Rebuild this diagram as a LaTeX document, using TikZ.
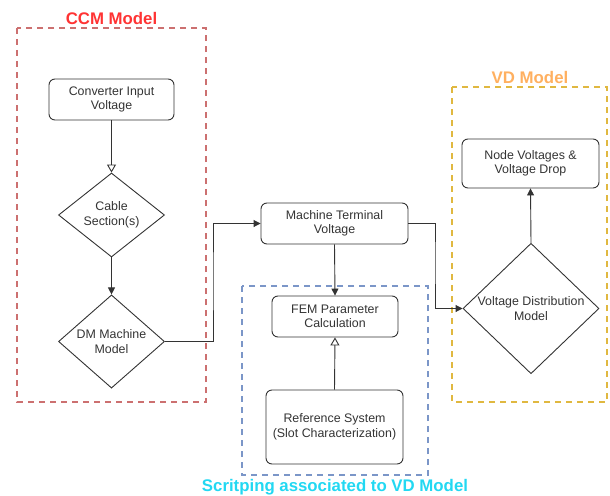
\documentclass[tikz,border=0pt]{standalone}
\usepackage{fontspec}
\setmainfont{Liberation Sans}
\usetikzlibrary{shapes.geometric,arrows.meta}
\definecolor{ccmline}{HTML}{CC7070}
\definecolor{ccmtext}{HTML}{FF3333}
\definecolor{vdline}{HTML}{E0B840}
\definecolor{vdtext}{HTML}{FFB060}
\definecolor{femline}{HTML}{7B96C8}
\definecolor{femtext}{HTML}{22D8F2}
\definecolor{ink}{HTML}{333333}
\begin{document}
\begin{tikzpicture}[x=1pt,y=-1pt,
  font=\fontsize{12.4}{14.5}\selectfont,
  proc/.style={draw=ink,line width=0.9pt,rounded corners=6pt,align=center,inner sep=0pt,text=ink},
  dia/.style={draw=ink,line width=0.9pt,diamond,align=center,inner sep=0pt,text=ink},
  grp/.style={dashed,dash pattern=on 6pt off 5pt,line width=1.1pt},
  ttl/.style={font=\fontsize{16.8}{19}\selectfont\bfseries},
  conn/.style={draw=ink,line width=0.9pt},
  fill tip/.style={-{Triangle[length=7pt,width=7pt]}},
  open tip/.style={-{Triangle[open,length=8pt,width=9pt,fill=white]}}
]
\useasboundingbox (0,0) rectangle (610,495);
% group boxes
\draw[grp,ccmline] (17,28) rectangle (206,402);
\node[ttl,text=ccmtext] (ccmt) at (111.5,18) {CCM Model};
\draw[grp,vdline] (452,87) rectangle (607,402);
\node[ttl,text=vdtext] (vdt) at (530,77) {VD Model};
\draw[grp,femline] (242,286) rectangle (428,475);
\node[ttl,text=femtext] (femt) at (335,487) {Scritping associated to VD Model};
% nodes
\node[proc,minimum width=125pt,minimum height=41pt] (civ) at (111.5,99.5) {Converter Input\\Voltage};
\node[dia,minimum width=106pt,minimum height=84pt] (cab) at (111.5,215) {Cable\\Section(s)};
\node[dia,minimum width=106pt,minimum height=84pt] (dm) at (111.5,341.5) {DM Machine\\Model};
\node[proc,minimum width=147pt,minimum height=41pt] (mtv) at (334.5,223.5) {Machine Terminal\\Voltage};
\node[proc,minimum width=126pt,minimum height=41pt] (fem) at (335,316.5) {FEM Parameter\\Calculation};
\node[proc,minimum width=137pt,minimum height=74pt] (ref) at (334.5,427) {Reference System\\(Slot Characterization)};
\node[proc,minimum width=137pt,minimum height=49pt] (nv) at (530.5,163.5) {Node Voltages \&\\Voltage Drop};
\node[dia,minimum width=136pt,minimum height=127pt] (vdm) at (531,308.5) {Voltage Distribution\\Model};
% connectors
\draw[conn,open tip] (civ.south) -- (cab.north);
\draw[conn,fill tip] (cab.south) -- (dm.north);
\draw[conn,fill tip] (dm.east) -| (213,280) |- (mtv.west);
\draw[conn,fill tip] (mtv.south) -- (fem.north);
\draw[conn,open tip] (ref.north) -- (fem.south);
\draw[conn,fill tip] (mtv.east) -| (435,260) |- (vdm.west);
\draw[conn,fill tip] (vdm.north) -- (nv.south);
\end{tikzpicture}
\end{document}
